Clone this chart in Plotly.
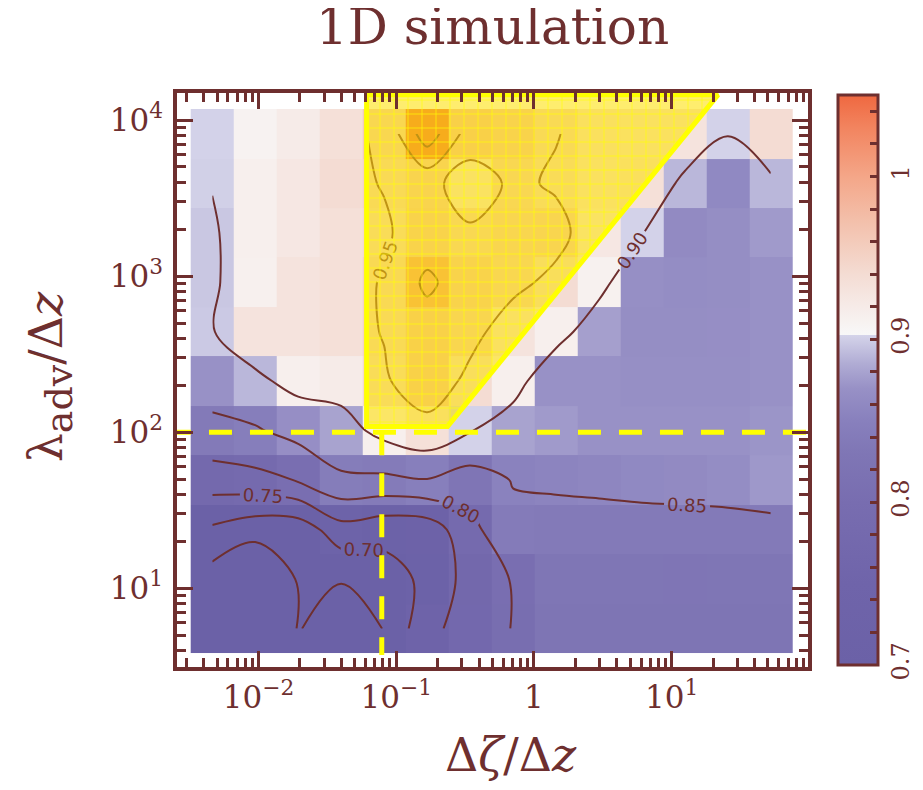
import numpy as np
import plotly.graph_objects as go

# ---------------- data ----------------
# cell centres (log-spaced grid)
dzeta_over_dz = [0.00461, 0.00946, 0.0194, 0.0398, 0.0817, 0.1675, 0.3436,
                 0.705, 1.445, 2.965, 6.08, 12.47, 25.6, 52.5]
lambda_over_dz = [5.51, 11.44, 23.7, 49.3, 102.2, 212, 440, 913, 1895, 3930, 8160]

# ratio values, rows listed from top (largest lambda) to bottom
ratio_rows_top_down = [
    [0.902, 0.910, 0.920, 0.935, 0.960, 1.080, 0.976, 0.970, 0.952, 0.934, 0.930, 0.930, 0.902, 0.940],
    [0.901, 0.915, 0.925, 0.940, 0.952, 0.965, 0.927, 0.958, 0.945, 0.930, 0.935, 0.890, 0.860, 0.890],
    [0.897, 0.915, 0.925, 0.935, 0.945, 0.970, 0.956, 0.962, 0.963, 0.925, 0.902, 0.862, 0.866, 0.875],
    [0.897, 0.913, 0.930, 0.935, 0.953, 1.010, 0.970, 0.960, 0.940, 0.912, 0.868, 0.865, 0.866, 0.870],
    [0.898, 0.930, 0.930, 0.935, 0.952, 0.975, 0.962, 0.930, 0.915, 0.878, 0.866, 0.866, 0.867, 0.870],
    [0.870, 0.890, 0.915, 0.920, 0.945, 0.975, 0.940, 0.915, 0.870, 0.870, 0.868, 0.868, 0.868, 0.870],
    [0.838, 0.845, 0.867, 0.880, 0.915, 0.935, 0.902, 0.880, 0.875, 0.870, 0.870, 0.870, 0.870, 0.872],
    [0.775, 0.785, 0.803, 0.843, 0.840, 0.848, 0.828, 0.852, 0.855, 0.857, 0.860, 0.862, 0.865, 0.874],
    [0.692, 0.668, 0.669, 0.730, 0.715, 0.720, 0.785, 0.840, 0.838, 0.838, 0.838, 0.838, 0.838, 0.838],
    [0.627, 0.596, 0.654, 0.652, 0.680, 0.710, 0.770, 0.803, 0.830, 0.830, 0.830, 0.828, 0.830, 0.830],
    [0.610, 0.600, 0.652, 0.630, 0.651, 0.737, 0.771, 0.802, 0.825, 0.825, 0.826, 0.826, 0.826, 0.826],
]

contour_levels = dict(start=0.65, end=1.05, size=0.05)

# highlighted region (vertices) and threshold lines
region_dzeta = [0.0609, 21.7, 0.2358, 0.0609, 0.0609]
region_lambda = [14500, 14500, 108.9, 108.9, 14500]
threshold_lambda = 100
threshold_dzeta = 0.0785

x_tick_vals = [0.01, 0.1, 1, 10]
x_tick_text = ["10<sup>\u22122</sup>", "10<sup>\u22121</sup>", "1", "10<sup>1</sup>"]
y_tick_vals = [10, 100, 1000, 10000]
y_tick_text = ["10<sup>1</sup>", "10<sup>2</sup>", "10<sup>3</sup>", "10<sup>4</sup>"]
cbar_tick_vals = [0.70, 0.80, 0.90, 1.00]

# ---------------- styling ----------------
BROWN = "#6e2f2f"
FONT = "DejaVu Serif"
zmin, zmax = 0.70, 1.05

def nz(v):
    return (v - zmin) / (zmax - zmin)

colorscale = [
    [nz(0.70), "#6b61a7"],
    [nz(0.75), "#6f64aa"],
    [nz(0.80), "#786db0"],
    [nz(0.83), "#7f76b5"],
    [nz(0.85), "#8880bd"],
    [nz(0.87), "#9891c6"],
    [nz(0.885), "#b0acd4"],
    [nz(0.9024), "#d4d3e9"],
    [nz(0.9025), "#f8f8f8"],
    [nz(0.92), "#f6ebe8"],
    [nz(0.94), "#f4dcd3"],
    [nz(0.97), "#f3c2ae"],
    [nz(1.00), "#f4a688"],
    [nz(1.03), "#f2845f"],
    [nz(1.05), "#ef6840"],
]

z = np.array(ratio_rows_top_down[::-1])
x = np.array(dzeta_over_dz)
y = np.array(lambda_over_dz)


def edges(c):
    lc = np.log10(c)
    mid = (lc[:-1] + lc[1:]) / 2
    first = lc[0] - (lc[1] - lc[0]) / 2
    last = lc[-1] + (lc[-1] - lc[-2]) / 2
    return 10 ** np.concatenate([[first], mid, [last]])


cb_vals = [round(v, 2) for v in np.arange(0.70, 1.0401, 0.02)]
cb_text = []
for v in cb_vals:
    if any(abs(v - t) < 1e-9 for t in cbar_tick_vals):
        cb_text.append("1" if abs(v - 1) < 1e-9 else f"{v:.1f}")
    else:
        cb_text.append("")

fig = go.Figure()

fig.add_trace(go.Heatmap(
    x=edges(x), y=edges(y), z=z, zmin=zmin, zmax=zmax,
    colorscale=colorscale, zsmooth=False, hoverinfo="skip",
    colorbar=dict(
        x=1.0475, xanchor="left", xpad=0, ypad=0,
        y=0.5, yanchor="middle", len=0.993, lenmode="fraction",
        thickness=40, outlinewidth=3, outlinecolor=BROWN,
        tickmode="array", tickvals=cb_vals, ticktext=cb_text,
        ticks="inside", ticklen=9, tickwidth=2.5, tickcolor=BROWN,
        tickangle=-90, tickfont=dict(family=FONT, size=24, color=BROWN),
    ),
))

fig.add_trace(go.Contour(
    x=x, y=y, z=z, showscale=False, hoverinfo="skip",
    contours=dict(coloring="none", showlabels=True, labelformat=".2f",
                  labelfont=dict(family="DejaVu Sans", size=18, color=BROWN),
                  **contour_levels),
    line=dict(color=BROWN, width=2),
))

fig.add_trace(go.Scatter(
    x=region_dzeta, y=region_lambda, mode="lines", fill="toself",
    fillcolor="rgba(253,222,0,0.57)",
    fillpattern=dict(shape="+", fgcolor="#ffff00", bgcolor="rgba(253,222,0,0.57)",
                     size=14, solidity=0.1, fgopacity=0.9),
    line=dict(color="#ffff00", width=5), hoverinfo="skip", showlegend=False,
))

fig.add_trace(go.Scatter(
    x=[0.0022, 120], y=[threshold_lambda, threshold_lambda], mode="lines",
    line=dict(color="#ffff00", width=5, dash="23px,18px"), hoverinfo="skip", showlegend=False,
))
fig.add_trace(go.Scatter(
    x=[threshold_dzeta, threshold_dzeta], y=[threshold_lambda, 3.74], mode="lines",
    line=dict(color="#ffff00", width=5, dash="23px,18px"), hoverinfo="skip", showlegend=False,
))

minor_x = [k * 10.0 ** d for d in range(-3, 2) for k in range(2, 10) if 0.0026 < k * 10.0 ** d < 97]
minor_y = [k * 10.0 ** d for d in range(0, 5) for k in range(2, 10) if 3.14 < k * 10.0 ** d < 14800]

axis_common = dict(
    showline=True, linewidth=3.5, linecolor=BROWN, mirror="allticks",
    ticks="inside", ticklen=16, tickwidth=3, tickcolor=BROWN,
    showgrid=False, zeroline=False, tickmode="array", automargin=False,
    tickfont=dict(family=FONT, size=31, color=BROWN),
)

fig.update_layout(
    width=915, height=782,
    margin=dict(l=169, r=115, t=85, b=123, autoexpand=False),
    paper_bgcolor="white", plot_bgcolor="white",
    showlegend=False,
    title=dict(text="1D simulation", x=0.5, xref="paper", xanchor="center",
               y=0.999, yref="container", yanchor="top", pad=dict(t=0, b=0),
               font=dict(family=FONT, size=50, color=BROWN)),
    xaxis=dict(type="log", range=[-2.592, 1.990], tickvals=x_tick_vals, ticktext=x_tick_text,
               minor=dict(tickmode="array", tickvals=minor_x, ticks="inside", ticklen=9,
                          tickwidth=2.5, tickcolor=BROWN),
               **axis_common),
    yaxis=dict(type="log", range=[0.4955, 4.173], tickvals=y_tick_vals, ticktext=y_tick_text,
               ticklabelstandoff=4,
               minor=dict(tickmode="array", tickvals=minor_y, ticks="inside", ticklen=9,
                          tickwidth=2.5, tickcolor=BROWN),
               **axis_common),
    annotations=[
        dict(text="\u0394<i>\u03b6</i>/\u0394<i>z</i>", xref="paper", yref="paper",
             x=0.529, y=-0.153, xanchor="center", yanchor="middle", showarrow=False,
             font=dict(family=FONT, size=46, color=BROWN)),
        dict(text="\u03bb<sub><span style='font-size:38px'>adv</span></sub>/\u0394<i>z</i>",
             xref="paper", yref="paper",
             x=-0.201, y=0.505, xanchor="center", yanchor="middle", showarrow=False,
             textangle=-90, font=dict(family=FONT, size=46, color=BROWN)),
    ],
)

fig.write_html("out.html")
